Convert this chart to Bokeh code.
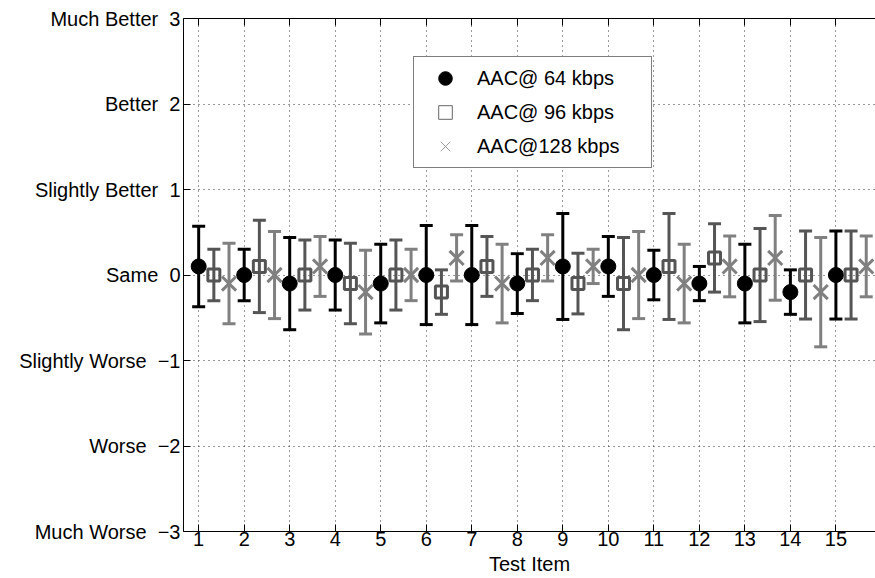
from bokeh.plotting import figure
from bokeh.models import (Whisker, TeeHead, ColumnDataSource, FixedTicker, LinearAxis,
                          Legend, LegendItem, Range1d)
from bokeh.embed import file_html
from bokeh.resources import INLINE

items = list(range(1, 16))
labels = ["AAC@ 64 kbps", "AAC@ 96 kbps", "AAC@128 kbps"]

mean64 = [0.1, 0.0, -0.1, 0.0, -0.1, 0.0, 0.0, -0.1, 0.1, 0.1, 0.0, -0.1, -0.1, -0.2, 0.0]
err64 = [0.47, 0.30, 0.54, 0.41, 0.46, 0.58, 0.58, 0.35, 0.62, 0.35, 0.29, 0.20, 0.46, 0.26, 0.515]
mean96 = [0.0, 0.1, 0.0, -0.1, 0.0, -0.2, 0.1, 0.0, -0.1, -0.1, 0.1, 0.2, 0.0, 0.0, 0.0]
err96 = [0.30, 0.54, 0.41, 0.47, 0.41, 0.26, 0.35, 0.30, 0.355, 0.54, 0.62, 0.40, 0.545, 0.515, 0.515]
mean128 = [-0.1, 0.0, 0.1, -0.2, 0.0, 0.2, -0.1, 0.2, 0.1, 0.0, -0.1, 0.1, 0.2, -0.2, 0.1]
err128 = [0.47, 0.51, 0.35, 0.49, 0.30, 0.27, 0.46, 0.27, 0.20, 0.51, 0.46, 0.355, 0.495, 0.64, 0.355]

y_ticks = [-3, -2, -1, 0, 1, 2, 3]
y_tick_names = ["Much Worse", "Worse", "Slightly Worse", "Same", "Slightly Better", "Better", "Much Better"]

FONT = "Liberation Sans"

p = figure(width=875, height=578, output_backend="svg", toolbar_location=None,
           x_range=Range1d(2 / 3, 15.87), y_range=Range1d(-3, 3),
           min_border_left=183, min_border_right=0, min_border_top=18, min_border_bottom=47)
p.outline_line_color = None
p.background_fill_color = "white"
p.border_fill_color = "white"

# axes
p.xaxis.ticker = FixedTicker(ticks=items)
p.yaxis.ticker = FixedTicker(ticks=y_ticks)
for ax in (p.xaxis[0], p.yaxis[0]):
    ax.major_tick_in = 7
    ax.major_tick_out = 0
    ax.minor_tick_line_color = None
    ax.axis_line_color = "black"
    ax.major_tick_line_color = "black"
    ax.major_label_text_font = FONT
    ax.major_label_text_font_size = "20px"
    ax.major_label_text_color = "black"
p.xaxis.major_label_standoff = 0
p.yaxis.major_label_standoff = 3
p.xaxis.axis_label = "Test Item"
p.xaxis.axis_label_text_font = FONT
p.xaxis.axis_label_text_font_size = "20px"
p.xaxis.axis_label_text_font_style = "normal"
p.xaxis.axis_label_text_color = "black"
p.xaxis.axis_label_standoff = 4
p.yaxis.major_label_overrides = {
    t: n + " \u00a0" + (("\u2212" + str(-t)) if t < 0 else str(t))
    for t, n in zip(y_ticks, y_tick_names)
}

top = LinearAxis(ticker=FixedTicker(ticks=items), major_label_text_font_size="1px",
                 major_label_text_color=None, major_label_standoff=0,
                 major_tick_in=7, major_tick_out=0,
                 minor_tick_line_color=None, axis_line_color="black",
                 major_tick_line_color="black")
p.add_layout(top, "above")

# grid
for g in (p.xgrid[0], p.ygrid[0]):
    g.grid_line_color = "#333333"
    g.grid_line_dash = "1 4"
    g.grid_line_width = 1
p.xgrid.ticker = FixedTicker(ticks=items)
p.ygrid.ticker = FixedTicker(ticks=y_ticks)

series = [
    (0.0, mean64, err64, "#000000", "circle"),
    (1 / 3, mean96, err96, "#555555", "square"),
    (2 / 3, mean128, err128, "#808080", "x"),
]

for off, m, e, col, mk in series:
    src = ColumnDataSource(dict(
        x=[i + off for i in items],
        y=m,
        upper=[a + b for a, b in zip(m, e)],
        lower=[a - b for a, b in zip(m, e)],
    ))
    w = Whisker(source=src, base="x", upper="upper", lower="lower",
                line_color=col, line_width=3,
                upper_head=TeeHead(size=13, line_color=col, line_width=3),
                lower_head=TeeHead(size=13, line_color=col, line_width=3))
    w.level = "glyph"
    p.add_layout(w)
    if mk == "circle":
        p.scatter("x", "y", source=src, marker="circle", size=15,
                  fill_color=col, line_color=col, line_width=1)
    elif mk == "square":
        p.scatter("x", "y", source=src, marker="square", size=12,
                  fill_color=None, line_color=col, line_width=3)
    else:
        p.scatter("x", "y", source=src, marker="x", size=20,
                  line_color=col, line_width=3)

# legend (thin markers as in the reference); NaN points draw nothing in the plot
nan = float("nan")
l1 = p.scatter("x", "y", source=ColumnDataSource(dict(x=[nan], y=[nan])), marker="circle",
               size=14, fill_color="black", line_color="black")
l2 = p.scatter("x", "y", source=ColumnDataSource(dict(x=[nan], y=[nan])), marker="square",
               size=12, fill_color=None, line_color="#666666", line_width=1)
l3 = p.scatter("x", "y", source=ColumnDataSource(dict(x=[nan], y=[nan])), marker="x",
               size=20, line_color="#999999", line_width=1)
legend = Legend(items=[LegendItem(label=labels[0], renderers=[l1], index=0),
                       LegendItem(label=labels[1], renderers=[l2], index=0),
                       LegendItem(label=labels[2], renderers=[l3], index=0)],
                location=(230, 363), orientation="vertical",
                glyph_width=54, glyph_height=34, label_height=34, spacing=0,
                padding=4, margin=0, label_standoff=5, label_width=170,
                label_text_font=FONT, label_text_font_size="20px",
                label_text_color="black",
                border_line_color="black", border_line_width=1,
                background_fill_color="white", background_fill_alpha=1.0)
p.add_layout(legend)

open("out.html", "w").write(file_html(p, INLINE))
